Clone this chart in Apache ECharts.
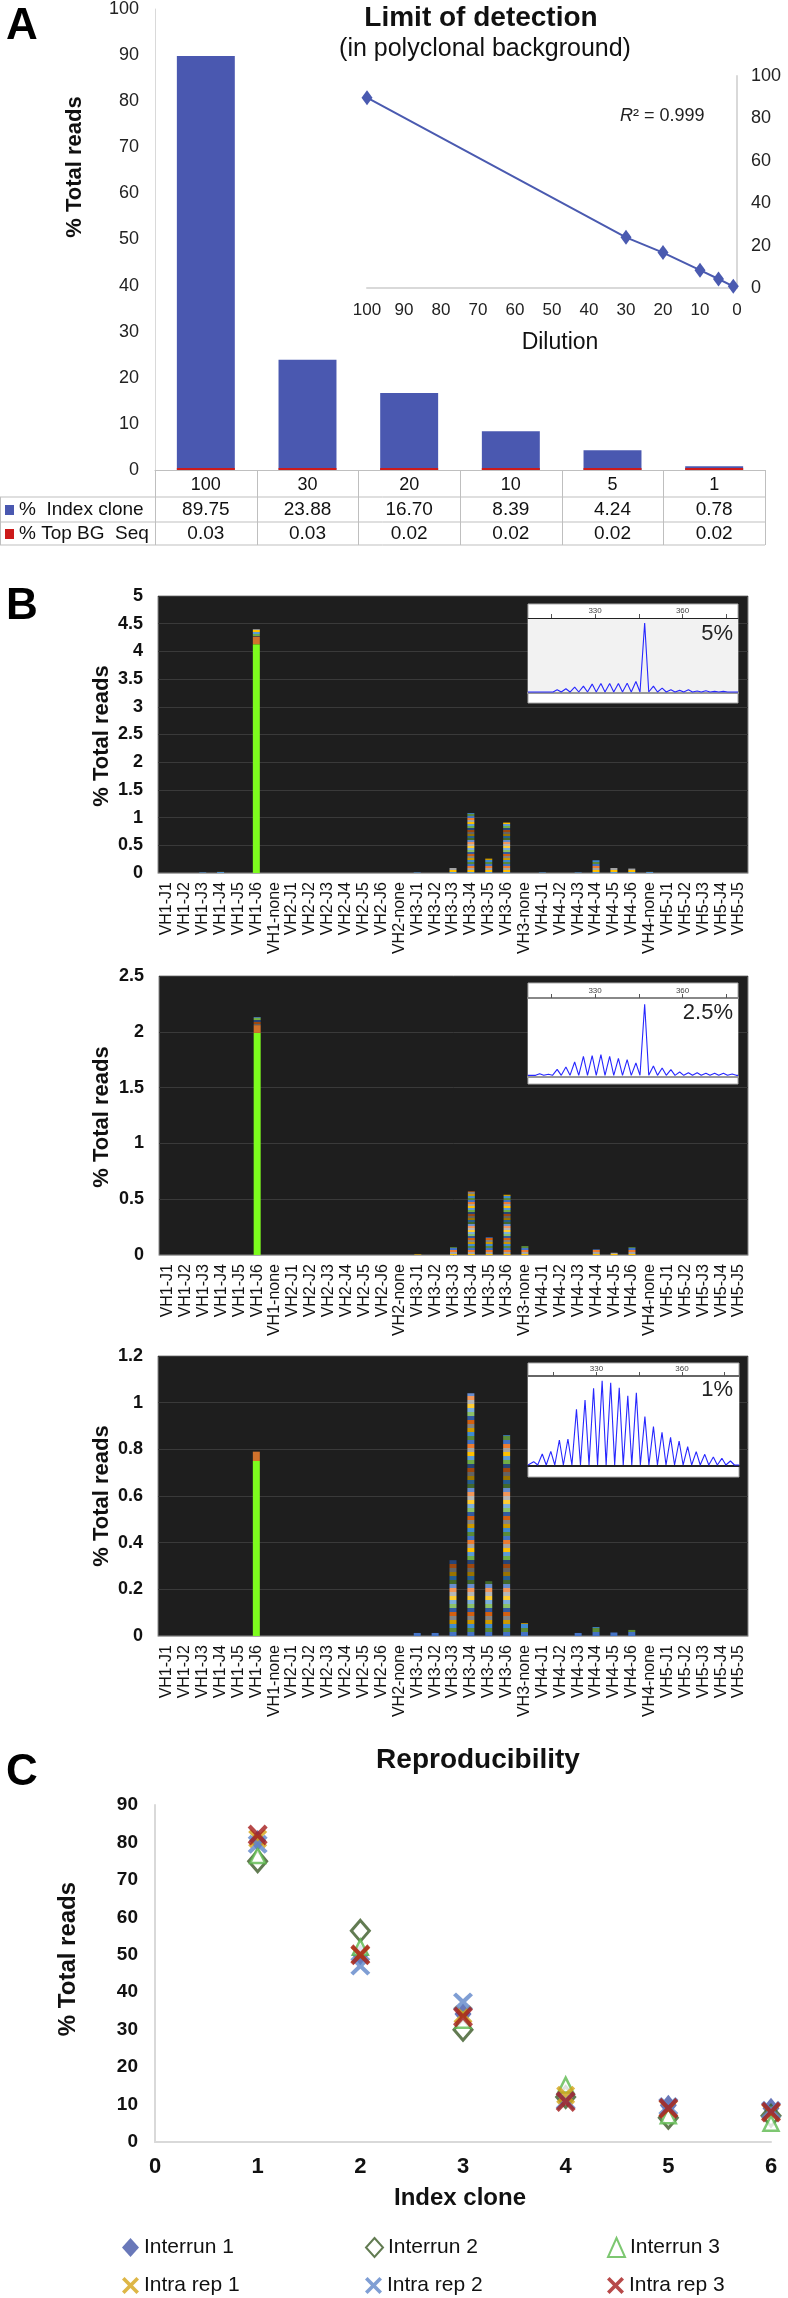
<!DOCTYPE html>
<html>
<head>
<meta charset="utf-8">
<script src="https://cdn.jsdelivr.net/npm/echarts@6/dist/echarts.min.js"></script>
<style>
  html, body { margin: 0; padding: 0; background: #fff; }
  #chart { width: 788px; height: 2298px; }
</style>
</head>
<body>
<div id="chart"></div>
<script>
// ---- Panel A: limit of detection ----
const dilutions = ['100', '30', '20', '10', '5', '1'];
const dilutionValues = [100, 30, 20, 10, 5, 1];
const indexClone = [89.75, 23.88, 16.70, 8.39, 4.24, 0.78];
const topBgSeq = [0.03, 0.03, 0.02, 0.02, 0.02, 0.02];
const rSquared = '0.999';

// ---- Panel B: VH-JH usage at 5%, 2.5%, 1% ----
const vdjCats = [
  'VH1-J1', 'VH1-J2', 'VH1-J3', 'VH1-J4', 'VH1-J5', 'VH1-J6', 'VH1-none',
  'VH2-J1', 'VH2-J2', 'VH2-J3', 'VH2-J4', 'VH2-J5', 'VH2-J6', 'VH2-none',
  'VH3-J1', 'VH3-J2', 'VH3-J3', 'VH3-J4', 'VH3-J5', 'VH3-J6', 'VH3-none',
  'VH4-J1', 'VH4-J2', 'VH4-J3', 'VH4-J4', 'VH4-J5', 'VH4-J6', 'VH4-none',
  'VH5-J1', 'VH5-J2', 'VH5-J3', 'VH5-J4', 'VH5-J5'
];
const clone5 = [0,0,0,0,0,4.13,0, 0,0,0,0,0,0,0, 0,0,0,0,0,0,0, 0,0,0,0,0,0,0, 0,0,0,0,0];
const topBg5 = [0,0,0,0,0,0.14,0, 0,0,0,0,0,0,0, 0,0,0,0,0,0,0, 0,0,0,0,0,0,0, 0,0,0,0,0];
const other5 = [0,0,0.01,0.02,0,0.13,0, 0,0,0,0,0,0,0, 0.01,0,0.09,1.08,0.26,0.91,0, 0.01,0,0.01,0.23,0.09,0.08,0.02, 0,0,0,0,0];

const clone25 = [0,0,0,0,0,1.99,0, 0,0,0,0,0,0,0, 0,0,0,0,0,0,0, 0,0,0,0,0,0,0, 0,0,0,0,0];
const topBg25 = [0,0,0,0,0,0.07,0, 0,0,0,0,0,0,0, 0,0,0,0,0,0,0, 0,0,0,0,0,0,0, 0,0,0,0,0];
const other25 = [0,0,0,0,0,0.07,0, 0,0,0,0,0,0,0, 0.005,0,0.07,0.57,0.16,0.54,0.08, 0,0,0,0.05,0.02,0.07,0, 0,0,0,0,0];

const clone1 = [0,0,0,0,0,0.75,0, 0,0,0,0,0,0,0, 0,0,0,0,0,0,0, 0,0,0,0,0,0,0, 0,0,0,0,0];
const topBg1 = [0,0,0,0,0,0.04,0, 0,0,0,0,0,0,0, 0,0,0,0,0,0,0, 0,0,0,0,0,0,0, 0,0,0,0,0];
const other1 = [0,0,0,0,0,0,0, 0,0,0,0,0,0,0, 0.013,0.013,0.325,1.04,0.235,0.86,0.055, 0,0,0.013,0.038,0.015,0.026,0, 0,0,0,0,0];

// spectratype insets (CDR3 length peaks)
const peakPos5 = [317,320,323,326,329,332,335,338,341,344,347,350,353,356,359,362,365,368,371,374];
const peakH5 = [7,10,15,18,24,26,26,26,27,32,210,18,12,7,5,7,3,4,2,2];
const peakPos25 = [311,314,317,320,323,326,329,332,335,338,341,344,347,350,353,356,359,362,365,368,371,374,377];
const peakH25 = [5,3,18,25,40,57,59,62,57,51,47,37,213,28,22,17,10,8,8,6,6,6,4];
const peakPos1 = [308,311,314,317,320,323,326,329,332,335,338,341,344,347,350,353,356,359,362,365,368,371,374,377];
const peakH1 = [10,33,41,75,78,167,195,230,253,247,232,208,217,145,115,98,83,72,55,40,32,24,20,12];
const insetTicks = [315, 330, 345, 360, 375];
const insetLabels = [330, 360];

// ---- Panel C: reproducibility ----
const cloneIdx = [1, 2, 3, 4, 5, 6];
const interrun1 = [80.5, 50.0, 34.2, 12.5, 9.8, 9.0];
const interrun2 = [75.0, 56.4, 30.0, 12.0, 6.5, 7.0];
const interrun3 = [76.5, 52.0, 32.5, 15.2, 7.0, 5.0];
const intraRep1 = [81.0, 50.0, 34.0, 12.5, 9.0, 8.0];
const intraRep2 = [79.5, 47.0, 37.4, 11.0, 9.5, 8.5];
const intraRep3 = [82.0, 50.0, 33.4, 10.8, 9.0, 8.0];

const FONT = 'Liberation Sans, Arial, sans-serif';
const stripeColors = ['#4472c4','#ed7d31','#a5a5a5','#ffc000','#5b9bd5','#70ad47','#264478','#9e480e',
  '#636363','#997300','#255e91','#43682b','#698ed0','#f1975a','#b7b7b7','#ffcd33','#7cafdd','#8cc168',
  '#335aa1','#d26012','#848484','#cc9a00','#3f8bd1','#5a8a39'];

function stripes(h) {
  const c = document.createElement('canvas');
  c.width = 8;
  c.height = stripeColors.length * h;
  const ctx = c.getContext('2d');
  stripeColors.forEach((col, i) => {
    ctx.fillStyle = col;
    ctx.fillRect(0, i * h, 8, h);
  });
  return c;
}

function trace(pos, hts, min, max) {
  const d = [[min, 0]];
  pos.forEach((p, i) => {
    d.push([p - 1.4, 0], [p, hts[i]], [p + 1.4, 0]);
  });
  d.push([max, 0]);
  return d;
}

const grids = [], xAxes = [], yAxes = [], series = [], gfx = [];

function txt(x, y, text, size, opts) {
  gfx.push(Object.assign({
    type: 'text', x: x, y: y, z: 10,
    style: Object.assign({
      text: text, fontSize: size, fontFamily: FONT, fill: '#111',
      textAlign: 'center', textVerticalAlign: 'middle'
    }, (opts && opts.style) || {})
  }, (opts && opts.el) || {}));
}

// ===== Panel A =====
grids.push({ left: 155, top: 7, width: 610, height: 463 });
xAxes.push({
  gridIndex: 0, type: 'category', data: dilutions,
  axisLine: { lineStyle: { color: '#bfbfbf' } }, axisTick: { show: false },
  axisLabel: { fontSize: 18, color: '#111', margin: 6 }
});
yAxes.push({
  gridIndex: 0, type: 'value', min: 0, max: 100, interval: 10,
  axisLine: { show: true, lineStyle: { color: '#d9d9d9' } }, splitLine: { show: false },
  axisLabel: { fontSize: 18, color: '#222', margin: 16 }
});
series.push({
  name: '% Top BG Seq', type: 'bar', xAxisIndex: 0, yAxisIndex: 0, stack: 'a',
  data: topBgSeq, barWidth: '57%', barMinHeight: 2, itemStyle: { color: '#cc1a1a' }, z: 3
});
series.push({
  name: '% Index clone', type: 'bar', xAxisIndex: 0, yAxisIndex: 0, stack: 'a',
  data: indexClone, barWidth: '57%', itemStyle: { color: '#4a58b0' }
});

// inset dilution line
grids.push({ left: 367, top: 76, width: 370, height: 212 });
xAxes.push({
  gridIndex: 1, type: 'value', min: 0, max: 100, interval: 10, inverse: true,
  axisLine: { show: true, onZero: false, lineStyle: { color: '#d9d9d9', width: 2 } },
  axisTick: { show: false }, splitLine: { show: false },
  axisLabel: { fontSize: 17, color: '#222', margin: 14 }
});
yAxes.push({
  gridIndex: 1, type: 'value', position: 'right', min: 0, max: 100, interval: 20,
  axisLine: { show: true, onZero: false, lineStyle: { color: '#d9d9d9', width: 2 } },
  axisTick: { show: false }, splitLine: { show: false },
  axisLabel: { fontSize: 18, color: '#222', margin: 14 }
});
series.push({
  name: 'Dilution', type: 'line', xAxisIndex: 1, yAxisIndex: 1,
  data: dilutionValues.map((d, i) => [d, indexClone[i]]),
  symbol: 'diamond', symbolSize: [11, 15],
  itemStyle: { color: '#4a5ab0' }, lineStyle: { color: '#4a5ab0', width: 2 }
});

// data table under panel A
const tL = 155, tR = 765, colW = (tR - tL) / dilutions.length;
const lineStyle = { stroke: '#bfbfbf', lineWidth: 1 };
[497, 522, 545].forEach(y => gfx.push({ type: 'line', shape: { x1: 0, y1: y, x2: tR, y2: y }, style: lineStyle, z: 5 }));
for (let k = 0; k <= dilutions.length; k++) {
  const x = Math.round(tL + k * colW) + 0.5;
  gfx.push({ type: 'line', shape: { x1: x, y1: 470, x2: x, y2: 545 }, style: lineStyle, z: 5 });
}
gfx.push({ type: 'line', shape: { x1: 0.5, y1: 497, x2: 0.5, y2: 545 }, style: lineStyle, z: 5 });
gfx.push({ type: 'rect', shape: { x: 5, y: 505, width: 9, height: 10 }, style: { fill: '#4a58b0' }, z: 5 });
gfx.push({ type: 'rect', shape: { x: 5, y: 529, width: 9, height: 10 }, style: { fill: '#cc1a1a' }, z: 5 });
txt(19, 510, '%  Index clone', 19, { style: { textAlign: 'left' } });
txt(19, 534, '% Top BG  Seq', 19, { style: { textAlign: 'left' } });
indexClone.forEach((v, i) => txt(tL + (i + 0.5) * colW, 510, v.toFixed(2), 19));
topBgSeq.forEach((v, i) => txt(tL + (i + 0.5) * colW, 534, v.toFixed(2), 19));

txt(22, 27, 'A', 44, { style: { fontWeight: 'bold', fill: '#000' } });
txt(481, 18, 'Limit of detection', 28, { style: { fontWeight: 'bold' } });
txt(485, 49, '(in polyclonal background)', 25);
txt(560, 343, 'Dilution', 23);
gfx.push({
  type: 'text', x: 620, y: 116, z: 10,
  style: {
    rich: { i: { fontStyle: 'italic', fontSize: 18, fontFamily: FONT }, n: { fontSize: 18, fontFamily: FONT } },
    text: '{i|R}{n|² = ' + rSquared + '}', textVerticalAlign: 'middle', fill: '#222'
  }
});
txt(75, 167, '% Total reads', 22, { style: { fontWeight: 'bold' }, el: { rotation: Math.PI / 2 } });

// ===== Panel B =====
const vdjPanels = [
  { grid: { left: 158, top: 596, width: 590, height: 277 }, max: 5, step: 0.5,
    clone: clone5, top: topBg5, other: other5, stripe: 2, titleY: 736,
    box: [528, 604, 210, 99], ig: { left: 528, top: 618, width: 210, height: 75 },
    xmin: 307, xmax: 379, ymin: -3, ymax: 225, pos: peakPos5, h: peakH5, bg: '#f2f2f2',
    axisColor: '#222', label: '5%', labelY: 634 },
  { grid: { left: 159, top: 976, width: 589, height: 279 }, max: 2.5, step: 0.5,
    clone: clone25, top: topBg25, other: other25, stripe: 2, titleY: 1117,
    box: [528, 983, 210, 101], ig: { left: 528, top: 998, width: 210, height: 79 },
    xmin: 307, xmax: 379, ymin: -5, ymax: 232, pos: peakPos25, h: peakH25, bg: '#ffffff',
    axisColor: '#888', label: '2.5%', labelY: 1013 },
  { grid: { left: 158, top: 1356, width: 590, height: 280 }, max: 1.2, step: 0.2,
    clone: clone1, top: topBg1, other: other1, stripe: 4, titleY: 1496,
    box: [528, 1363, 211, 114], ig: { left: 528, top: 1376, width: 211, height: 90 },
    xmin: 306, xmax: 380, ymin: -3, ymax: 267, pos: peakPos1, h: peakH1, bg: '#ffffff',
    axisColor: '#666', label: '1%', labelY: 1390 }
];

vdjPanels.forEach((p, k) => {
  const gi = grids.length;
  grids.push(p.grid);
  const xi = xAxes.length;
  xAxes.push({
    gridIndex: gi, type: 'category', data: vdjCats,
    axisLine: { lineStyle: { color: '#aaa' } }, axisTick: { show: false },
    axisLabel: { interval: 0, rotate: 90, fontSize: 16, color: '#111', margin: 9 }
  });
  const yi = yAxes.length;
  yAxes.push({
    gridIndex: gi, type: 'value', min: 0, max: p.max, interval: p.step, z: -15,
    axisLine: { show: false }, axisTick: { show: false },
    splitLine: { lineStyle: { color: '#3a3a3a' } },
    axisLabel: { fontSize: 18, fontWeight: 'bold', color: '#111', margin: 15 }
  });
  const common = { type: 'bar', xAxisIndex: xi, yAxisIndex: yi, stack: 'b' + k, barWidth: 7 };
  series.push(Object.assign({ name: 'Index clone ' + k, data: p.clone, itemStyle: { color: '#7dfc1e' } }, common));
  series.push(Object.assign({ name: 'Top BG ' + k, data: p.top, itemStyle: { color: '#d0722c' } }, common));
  series.push(Object.assign({ name: 'Other ' + k, data: p.other,
    itemStyle: { color: { image: stripes(p.stripe), repeat: 'repeat' } } }, common));

  gfx.push({ type: 'rect', shape: { x: p.grid.left, y: p.grid.top, width: p.grid.width, height: p.grid.height },
    style: { fill: '#1e1e1e', stroke: '#888', lineWidth: 1 }, z: -20 });

  // spectratype inset
  gfx.push({ type: 'rect', shape: { x: p.box[0], y: p.box[1], width: p.box[2], height: p.box[3] },
    style: { fill: '#fff', stroke: '#aaa', lineWidth: 1 }, z: -10 });
  gfx.push({ type: 'rect', shape: { x: p.ig.left, y: p.ig.top, width: p.ig.width, height: p.ig.height },
    style: { fill: p.bg }, z: -9 });
  const ij = grids.length;
  grids.push(p.ig);
  const txi = xAxes.length;
  xAxes.push({
    gridIndex: ij, type: 'value', position: 'top', min: p.xmin, max: p.xmax,
    axisLine: { show: true, onZero: false, lineStyle: { color: p.axisColor, width: k === 0 ? 1 : 2 } },
    axisTick: { show: true, customValues: insetTicks, length: 4, lineStyle: { color: '#555' } },
    axisLabel: { customValues: insetLabels, fontSize: 8, color: '#444', margin: 3 },
    splitLine: { show: false }
  });
  xAxes.push({
    gridIndex: ij, type: 'value', position: 'bottom', min: p.xmin, max: p.xmax,
    axisLine: { show: true, onZero: false, lineStyle: { color: k === 2 ? '#222' : '#999', width: 2 } },
    axisTick: { show: false }, axisLabel: { show: false }, splitLine: { show: false }
  });
  const iyi = yAxes.length;
  yAxes.push({ gridIndex: ij, type: 'value', min: p.ymin, max: p.ymax, show: false, splitLine: { show: false } });
  series.push({
    name: 'Spectratype ' + k, type: 'line', xAxisIndex: txi, yAxisIndex: iyi,
    data: trace(p.pos, p.h, p.xmin, p.xmax), showSymbol: false, symbol: 'none',
    lineStyle: { color: '#2727ff', width: 1.1 }, z: 5
  });
  txt(733, p.labelY, p.label, 22, { style: { textAlign: 'right', fill: '#222' } });
  txt(102, p.titleY, '% Total reads', 22, { style: { fontWeight: 'bold' }, el: { rotation: Math.PI / 2 } });
});
txt(22, 607, 'B', 44, { style: { fontWeight: 'bold', fill: '#000' } });

// ===== Panel C =====
const gc = grids.length;
grids.push({ left: 155, top: 1805, width: 616, height: 337 });
const cx = xAxes.length;
xAxes.push({
  gridIndex: gc, type: 'value', min: 0, max: 6, interval: 1,
  axisLine: { onZero: false, lineStyle: { color: '#d9d9d9', width: 2 } }, axisTick: { show: false },
  splitLine: { show: false }, axisLabel: { fontSize: 22, fontWeight: 'bold', color: '#111', margin: 14 }
});
const cy = yAxes.length;
yAxes.push({
  gridIndex: gc, type: 'value', min: 0, max: 90, interval: 10,
  axisLine: { show: true, onZero: false, lineStyle: { color: '#d9d9d9', width: 2 } }, axisTick: { show: false },
  splitLine: { show: false }, axisLabel: { fontSize: 19, fontWeight: 'bold', color: '#111', margin: 17 }
});
const crossPath = 'path://M3,0 L10,7 L17,0 L20,3 L13,10 L20,17 L17,20 L10,13 L3,20 L0,17 L7,10 L0,3 Z';
const cSeries = [
  { name: 'Interrun 1', vals: interrun1, symbol: 'diamond', size: [17, 21], style: { color: '#4356a8' } },
  { name: 'Interrun 2', vals: interrun2, symbol: 'diamond', size: [18, 21], style: { color: '#fff', borderColor: '#3b5a27', borderWidth: 3 } },
  { name: 'Interrun 3', vals: interrun3, symbol: 'triangle', size: [15, 15], style: { color: '#fff', borderColor: '#5db94e', borderWidth: 2.5 } },
  { name: 'Intra rep 1', vals: intraRep1, symbol: crossPath, size: [19, 19], style: { color: '#d4a418' } },
  { name: 'Intra rep 2', vals: intraRep2, symbol: crossPath, size: [20, 19], style: { color: '#5f86c9' } },
  { name: 'Intra rep 3', vals: intraRep3, symbol: crossPath, size: [20, 21], style: { color: '#a51c1c' } }
];
cSeries.forEach(s => series.push({
  name: s.name, type: 'scatter', xAxisIndex: cx, yAxisIndex: cy,
  data: cloneIdx.map((c, i) => [c, s.vals[i]]),
  symbol: s.symbol, symbolSize: s.size, itemStyle: s.style
}));
txt(22, 1773, 'C', 44, { style: { fontWeight: 'bold', fill: '#000' } });
txt(478, 1760, 'Reproducibility', 28, { style: { fontWeight: 'bold' } });
txt(460, 2198, 'Index clone', 24, { style: { fontWeight: 'bold' } });
txt(68, 1959, '% Total reads', 24, { style: { fontWeight: 'bold' }, el: { rotation: Math.PI / 2 } });

// one legend per item so the columns line up like the reference
const legendCols = [117, 360, 602];
const legends = cSeries.map((s, i) => ({
  data: [s.name], left: legendCols[i % 3], top: i < 3 ? 2232 : 2270,
  itemWidth: 17, itemHeight: 19, selectedMode: false,
  textStyle: { fontSize: 21, color: '#111', fontFamily: FONT }
}));

const chart = echarts.init(document.getElementById('chart'));
chart.setOption({
  animation: false,
  backgroundColor: '#fff',
  textStyle: { fontFamily: FONT },
  grid: grids,
  xAxis: xAxes,
  yAxis: yAxes,
  series: series,
  legend: legends,
  graphic: { elements: gfx }
});
</script>
</body>
</html>
